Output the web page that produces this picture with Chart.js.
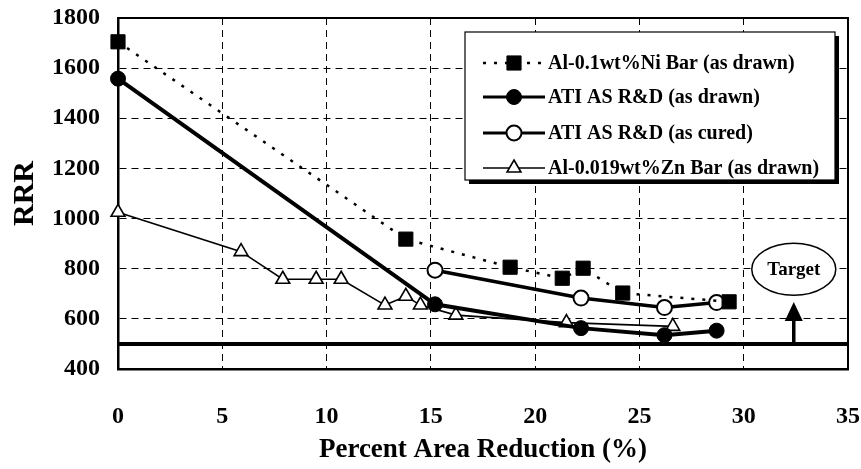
<!DOCTYPE html>
<html>
<head>
<meta charset="utf-8">
<script src="https://cdn.jsdelivr.net/npm/chart.js@4.4.1/dist/chart.umd.min.js"></script>
<style>
  html, body { margin: 0; padding: 0; background: #fff; }
  #wrap { width: 861px; height: 469px; }
</style>
</head>
<body>
<div id="wrap"><canvas id="c" width="861" height="469"></canvas></div>
<script>
// ---- data ----
const seriesNames = [
  'Al-0.1wt%Ni Bar (as drawn)',
  'ATI AS R&D (as drawn)',
  'ATI AS R&D (as cured)',
  'Al-0.019wt%Zn Bar (as drawn)'
];
const niX = [0, 13.8, 18.8, 21.3, 22.3, 24.2, 29.3];
const niY = [1705, 918, 806, 762, 802, 703, 668];
const atiDrawnX = [0, 15.2, 22.2, 26.2, 28.7];
const atiDrawnY = [1558, 658, 563, 535, 553];
const atiCuredX = [15.2, 22.2, 26.2, 28.7];
const atiCuredY = [794, 683, 645, 665];
const znX = [0, 5.9, 7.9, 9.5, 10.7, 12.8, 13.8, 14.5, 16.2, 21.5, 26.6];
const znY = [1025, 868, 758, 758, 758, 655, 690, 655, 615, 585, 570];
const targetLineX = [0, 35];
const targetLineY = [500, 500];
const targetArrowX = 32.4;      // x of the "Target" arrow
const targetArrowTop = 667;     // RRR at arrow tip
const targetLabelY = 798;       // RRR at centre of "Target" ellipse
const targetLabel = 'Target';
const xTicks = [0, 5, 10, 15, 20, 25, 30, 35];
const yTicks = [400, 600, 800, 1000, 1200, 1400, 1600, 1800];
const xTitle = 'Percent Area Reduction (%)';
const yTitle = 'RRR';

const pts = (xs, ys) => xs.map((x, i) => ({x: x, y: ys[i]}));
const SERIF = "'Liberation Serif', 'Times New Roman', serif";

const datasets = [
  { label: seriesNames[0], data: pts(niX, niY), showLine: true, clip: false,
    borderColor: '#000', borderWidth: 2.5, borderDash: [3, 8],
    pointStyle: 'rect', pointRadius: 10, pointBackgroundColor: '#000', pointBorderColor: '#000', pointBorderWidth: 1 },
  { label: seriesNames[1], data: pts(atiDrawnX, atiDrawnY), showLine: true, clip: false,
    borderColor: '#000', borderWidth: 4,
    pointStyle: 'circle', pointRadius: 7.5, pointBackgroundColor: '#000', pointBorderColor: '#000', pointBorderWidth: 1 },
  { label: seriesNames[2], data: pts(atiCuredX, atiCuredY), showLine: true, clip: false,
    borderColor: '#000', borderWidth: 3.5,
    pointStyle: 'circle', pointRadius: 7.5, pointBackgroundColor: '#fff', pointBorderColor: '#000', pointBorderWidth: 2 },
  { label: seriesNames[3], data: pts(znX, znY), showLine: true, clip: false,
    borderColor: '#000', borderWidth: 1.6,
    pointStyle: 'triangle', pointRadius: 8, pointBackgroundColor: '#fff', pointBorderColor: '#000', pointBorderWidth: 1.6 },
  { label: 'target', data: pts(targetLineX, targetLineY), showLine: true,
    borderColor: '#000', borderWidth: 4, pointRadius: 0 }
];

function drawMarker(ctx, style, x, y, r, fill, lw) {
  ctx.save();
  ctx.fillStyle = fill; ctx.strokeStyle = '#000'; ctx.lineWidth = lw;
  ctx.setLineDash([]);
  ctx.beginPath();
  if (style === 'rect') {
    const s = Math.SQRT1_2 * r;
    ctx.rect(x - s, y - s, 2 * s, 2 * s);
  } else if (style === 'circle') {
    ctx.arc(x, y, r, 0, Math.PI * 2);
  } else if (style === 'triangle') {
    ctx.moveTo(x, y - r);
    ctx.lineTo(x + r * 0.866, y + r * 0.5);
    ctx.lineTo(x - r * 0.866, y + r * 0.5);
    ctx.closePath();
  }
  ctx.fill(); ctx.stroke();
  ctx.restore();
}

const decor = {
  id: 'decor',
  afterDatasetsDraw(chart) {
    const ctx = chart.ctx, a = chart.chartArea;
    const xs = chart.scales.x, ys = chart.scales.y;
    // frame top/right
    ctx.save();
    ctx.strokeStyle = '#000'; ctx.lineWidth = 2; ctx.setLineDash([]);
    ctx.beginPath();
    ctx.moveTo(a.left, a.top); ctx.lineTo(a.right, a.top); ctx.lineTo(a.right, a.bottom);
    ctx.stroke();
    ctx.restore();

    // target arrow + ellipse
    const ax = xs.getPixelForValue(targetArrowX);
    const yBase = ys.getPixelForValue(targetLineY[0]);
    const yTip = ys.getPixelForValue(targetArrowTop);
    const yLab = ys.getPixelForValue(targetLabelY);
    ctx.save();
    ctx.strokeStyle = '#000'; ctx.fillStyle = '#000'; ctx.setLineDash([]);
    ctx.lineWidth = 3.5;
    ctx.beginPath(); ctx.moveTo(ax, yBase); ctx.lineTo(ax, yTip + 14); ctx.stroke();
    ctx.beginPath(); ctx.moveTo(ax, yTip); ctx.lineTo(ax + 9, yTip + 19); ctx.lineTo(ax - 9, yTip + 19); ctx.closePath(); ctx.fill();
    ctx.lineWidth = 1.5;
    ctx.beginPath(); ctx.ellipse(ax, yLab, 42, 26, 0, 0, Math.PI * 2);
    ctx.fillStyle = '#fff'; ctx.fill(); ctx.stroke();
    ctx.fillStyle = '#000';
    ctx.font = 'bold 19px ' + SERIF;
    ctx.textAlign = 'center'; ctx.textBaseline = 'middle';
    ctx.fillText(targetLabel, ax, yLab + 1);
    ctx.restore();

    // legend box
    const bx = 465, by = 32, bw = 370, bh = 148;
    ctx.save();
    ctx.setLineDash([]);
    ctx.fillStyle = '#000';
    ctx.fillRect(bx + 4, by + 4, bw, bh);
    ctx.fillStyle = '#fff';
    ctx.fillRect(bx, by, bw, bh);
    ctx.strokeStyle = '#000'; ctx.lineWidth = 1.2;
    ctx.strokeRect(bx, by, bw, bh);
    const rows = [63, 97, 133, 168];
    chart.data.datasets.slice(0, 4).forEach((ds, i) => {
      const y = rows[i];
      ctx.save();
      ctx.strokeStyle = '#000';
      ctx.lineWidth = Math.min(ds.borderWidth, 3);
      ctx.setLineDash(ds.borderDash || []);
      ctx.beginPath(); ctx.moveTo(483, y); ctx.lineTo(545, y); ctx.stroke();
      ctx.restore();
      drawMarker(ctx, ds.pointStyle, 514, y, ds.pointRadius, ds.pointBackgroundColor, ds.pointBorderWidth);
      ctx.fillStyle = '#000';
      ctx.font = 'bold 20px ' + SERIF;
      ctx.textAlign = 'left'; ctx.textBaseline = 'middle';
      ctx.fillText(ds.label, 548, y + 1);
    });
    ctx.restore();
  }
};

new Chart(document.getElementById('c'), {
  type: 'scatter',
  data: { datasets: datasets },
  plugins: [decor],
  options: {
    responsive: false,
    animation: false,
    devicePixelRatio: 1,
    layout: { padding: { top: 18, right: 13, left: 0, bottom: 0 } },
    plugins: { legend: { display: false }, tooltip: { enabled: false } },
    scales: {
      x: {
        type: 'linear', min: 0, max: 35,
        afterBuildTicks: s => { s.ticks = xTicks.map(v => ({value: v})); },
        afterFit: s => { s.height = 100; s.paddingLeft = 0; s.paddingRight = 12; },
        grid: { color: '#000', lineWidth: 1, drawTicks: false },
        border: { display: true, color: '#000', width: 2.5, dash: [7, 5] },
        ticks: { color: '#000', padding: 33, callback: v => String(v),
                 font: { family: SERIF, size: 24, weight: 'bold' } },
        title: { display: true, text: xTitle, color: '#000', padding: { top: 0, bottom: 3 },
                 font: { family: SERIF, size: 27, weight: 'bold' } }
      },
      y: {
        type: 'linear', min: 400, max: 1800,
        afterBuildTicks: s => { s.ticks = yTicks.map(v => ({value: v})); },
        afterFit: s => { s.width = 118; s.paddingTop = 12; s.paddingBottom = 12; },
        grid: { color: '#000', lineWidth: 1, drawTicks: false },
        border: { display: true, color: '#000', width: 2.5, dash: [7, 5] },
        ticks: { color: '#000', padding: 18, callback: v => String(v),
                 font: { family: SERIF, size: 24, weight: 'bold' } },
        title: { display: true, text: yTitle, color: '#000', padding: { top: 7, bottom: 0 },
                 font: { family: SERIF, size: 30, weight: 'bold' } }
      }
    }
  }
});
</script>
</body>
</html>
